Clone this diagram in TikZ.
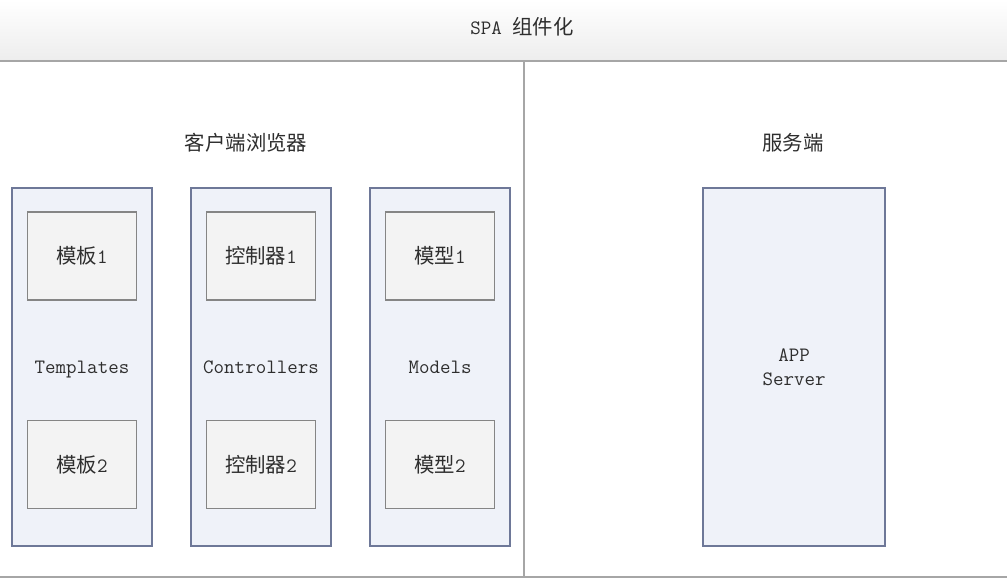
\documentclass[tikz,border=0pt]{standalone}
\usepackage{fontspec}
\newfontfamily\cjk{Noto Sans CJK SC}
\usetikzlibrary{positioning}

\definecolor{colfill}{HTML}{EFF2F9}
\definecolor{colline}{HTML}{6E7898}
\definecolor{itemfill}{HTML}{F3F3F3}
\definecolor{itemline}{HTML}{858585}
\definecolor{textgray}{HTML}{2E2E2E}
\definecolor{rulegray}{HTML}{A6A6A6}
\newcommand{\zh}[1]{{\cjk #1}}

\begin{document}
\begin{tikzpicture}[x=0.025cm, y=-0.025cm,
  % Node styles
  col/.style={draw=colline, fill=colfill, line width=0.9pt, minimum width=3.5cm,
              minimum height=8.95cm, inner sep=0pt, text=textgray,
              font=\ttfamily\fontsize{14.5}{17}\selectfont, align=center},
  item/.style={draw=itemline, fill=itemfill, line width=0.9pt, minimum width=2.725cm,
               minimum height=2.2cm, inner sep=0pt, text=textgray,
               font=\ttfamily\fontsize{14.5}{17}\selectfont},
  srv/.style={col, minimum width=4.55cm},
  % Label style
  lbl/.style={text=textgray, font=\ttfamily\fontsize{14.5}{17}\selectfont, inner sep=0pt},
  strut/.style={text height=2.3ex, text depth=0.3ex},
  % Rule style
  rule/.style={draw=rulegray, line width=1.2pt},
]
\useasboundingbox (0,0) rectangle (1007,580);
\fill[white] (0,0) rectangle (1007,580);

% === Header ===
\shade[top color=white, bottom color=black!7] (0,0) rectangle (1007,60);
\node[lbl] (title) at (522,27) {SPA \zh{组件化}};
\coordinate (hl) at (0,61);
\coordinate (hr) at (1007,61);
\coordinate (bl) at (0,577);
\coordinate (br) at (1007,577);
\coordinate (dtop) at (524,61);
\coordinate (dbot) at (524,577);
\draw[rule] (hl) -- (hr);
\draw[rule] (bl) -- (br);
\draw[rule, line width=0.9pt] (dtop) -- (dbot);

% === Section headings ===
\node[lbl] (client) at (246,143) {\zh{客户端浏览器}};
\node[lbl] (server) at (793,143) {\zh{服务端}};

% === Client columns ===
\node[col, strut] (TPL) at (82,367)  {Templates};
\node[col, strut] (CTL) at (261,367) {Controllers};
\node[col, strut] (MDL) at (440,367) {Models};

\node[item] (TPL1) at (82,256)    {\zh{模板}1};
\node[item] (TPL2) at (82,464.5)  {\zh{模板}2};
\node[item] (CTL1) at (261,256)   {\zh{控制器}1};
\node[item] (CTL2) at (261,464.5) {\zh{控制器}2};
\node[item] (MDL1) at (440,256)   {\zh{模型}1};
\node[item] (MDL2) at (440,464.5) {\zh{模型}2};

% === Server ===
\node[srv] (APP) at (794,367) {APP\\Server};

\end{tikzpicture}
\end{document}
